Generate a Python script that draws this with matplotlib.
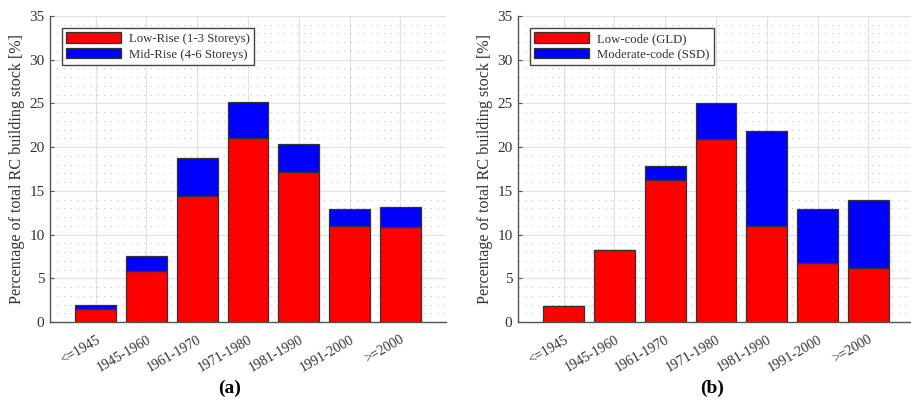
import matplotlib.pyplot as plt
import numpy as np

periods = ['<=1945', '1945-1960', '1961-1970', '1971-1980', '1981-1990', '1991-2000', '>=2000']

# (a) height classes
low_rise = [1.5, 5.8, 14.4, 21.0, 17.2, 11.0, 10.9]
mid_rise = [0.5, 1.7, 4.4, 4.2, 3.2, 1.9, 2.3]

# (b) design code classes
low_code = [1.8, 8.2, 16.2, 20.9, 11.0, 6.8, 6.2]
mod_code = [0.0, 0.0, 1.6, 4.1, 10.9, 6.1, 7.7]

plt.rcParams['font.family'] = ['Liberation Serif', 'DejaVu Serif']

fig = plt.figure(figsize=(9.12, 4.03), dpi=100)


def draw(ax, red, blue, labels):
    x = np.arange(1, len(periods) + 1)
    ax.bar(x, red, width=0.8, color='#ff0000', edgecolor='#333333', linewidth=0.9,
           label=labels[0], zorder=3)
    ax.bar(x, blue, width=0.8, bottom=red, color='#0000ff', edgecolor='#333333',
           linewidth=0.9, label=labels[1], zorder=3)
    ax.set_xlim(0.1, 7.9)
    ax.set_ylim(0, 35)
    ax.set_yticks(np.arange(0, 36, 5))
    ax.set_yticks(np.arange(0, 36, 1), minor=True)
    ax.set_xticks(x)
    ax.set_xticklabels(periods, rotation=30, ha='right', rotation_mode='anchor')
    ax.grid(True, which='major', color='#e2e2e2', linewidth=0.9, zorder=0)
    ax.grid(True, which='minor', axis='y', color='#c4c4c4', linewidth=0.8,
            linestyle=(0, (1, 5)), zorder=0)
    ax.tick_params(which='minor', length=0)
    ax.tick_params(which='major', direction='in', length=3, color='#555555',
                   labelsize=11, labelcolor='#333333', pad=4)
    ax.tick_params(axis='x', length=0, pad=8, labelsize=10)
    for s in ['top', 'right']:
        ax.spines[s].set_visible(False)
    for s in ['left', 'bottom']:
        ax.spines[s].set_color('#555555')
        ax.spines[s].set_linewidth(1.0)
    ax.set_ylabel('Percentage of total RC building stock [%]', fontsize=11.6,
                  color='#333333', labelpad=3)
    leg = ax.legend(loc='upper left', bbox_to_anchor=(12 / 396, 1 - 12 / 306),
                    borderaxespad=0, fontsize=9.2,
                    handlelength=4.3, handleheight=0.85, handletextpad=0.6,
                    labelspacing=0.25, borderpad=0.35, fancybox=False,
                    framealpha=1, edgecolor='#444444')
    leg.get_frame().set_linewidth(1.0)
    for t in leg.get_texts():
        t.set_color('#333333')


ax1 = fig.add_axes([50 / 912, 81 / 403, 396 / 912, 306 / 403])
draw(ax1, low_rise, mid_rise, ['Low-Rise (1-3 Storeys)', 'Mid-Rise (4-6 Storeys)'])

ax2 = fig.add_axes([518 / 912, 81 / 403, 396 / 912, 306 / 403])
draw(ax2, low_code, mod_code, ['Low-code (GLD)', 'Moderate-code (SSD)'])

fig.text(230 / 912, 1 - 388 / 403, '(a)', fontsize=14, fontweight='bold', ha='center', va='center')
fig.text(712 / 912, 1 - 388 / 403, '(b)', fontsize=14, fontweight='bold', ha='center', va='center')

plt.savefig('out.png', dpi=100)
